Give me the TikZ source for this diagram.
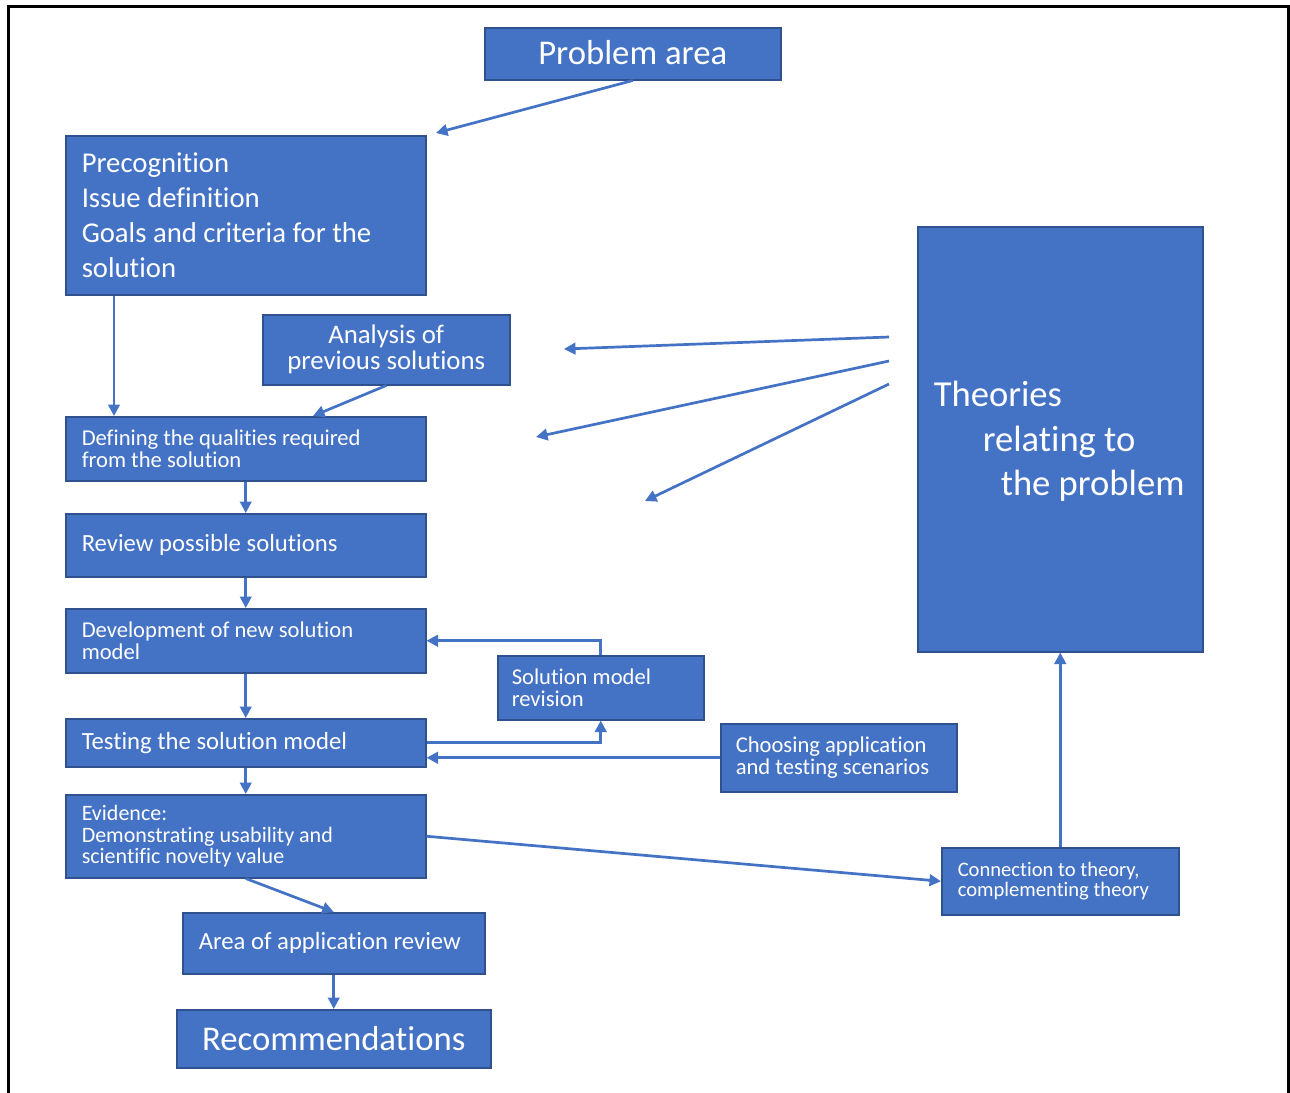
\documentclass[tikz,border=0pt]{standalone}
\usepackage{fontspec}
\setmainfont{Carlito}[Ligatures={TeX,NoCommon}]
\usetikzlibrary{arrows.meta,calc}
\definecolor{boxblue}{HTML}{4472C4}
\definecolor{boxborder}{HTML}{2F528F}
\definecolor{arrowblue}{HTML}{4472C4}
\tikzset{
  box/.style={draw=boxborder, line width=1.5pt, fill=boxblue, text=white, inner ysep=0pt, anchor=north west},
  lbox/.style={box, align=flush left, inner xsep=16pt},
  cbox/.style={box, align=center, inner xsep=0pt},
  arr/.style={draw=arrowblue, line width=2.7pt, -{Triangle[length=11.5pt,width=11.5pt]}},
  fsmall/.style={font=\fontsize{22.6}{22}\selectfont},
  fmid/.style={font=\fontsize{24.7}{26}\selectfont},
  flarge/.style={font=\fontsize{34.7}{36}\selectfont},
}
\begin{document}
\begin{tikzpicture}[x=1pt,y=-1pt]
\useasboundingbox (0,0) rectangle (1290,1092);
\fill[white] (0,0) rectangle (1290,1092);
% frame
\draw[line width=3pt, line cap=butt] (8,1100) -- (8,6.5) -- (1288.5,6.5) -- (1288.5,1100);

% nodes
\node[cbox, flarge, minimum width=296pt, minimum height=52pt] (prob) at (484,27) {\raisebox{3pt}{Problem area}};
\node[lbox, text width=328pt, minimum height=159pt, font=\fontsize{28.7}{35}\selectfont] (pre) at (65,135)
  {Precognition\\Issue definition\\Goals and criteria for the\\solution};
\node[cbox, minimum width=247pt, minimum height=70pt, font=\fontsize{26.8}{26}\selectfont] (ana) at (262,314)
  {Analysis of\\previous solutions};
\node[lbox, fsmall, text width=328pt, minimum height=64pt] (def) at (65,416)
  {Defining the qualities required\\from the solution};
\node[lbox, fmid, text width=328pt, minimum height=63pt] (rev) at (65,513) {\raisebox{-3pt}{Review possible solutions}};
\node[lbox, fsmall, text width=328pt, minimum height=64pt] (dev) at (65,608)
  {Development of new solution\\model};
\node[box, fsmall, align=flush left, inner xsep=14pt, text width=178pt, minimum height=64pt] (revis) at (497,655)
  {Solution model\\revision};
\node[lbox, fmid, text width=328pt, minimum height=48pt] (test) at (65,718) {\raisebox{-2pt}{Testing the solution model}};
\node[box, fsmall, align=flush left, inner xsep=15pt, text width=206pt, minimum height=68pt] (choose) at (720,723)
  {Choosing application\\and testing scenarios};
\node[lbox, font=\fontsize{22}{21.5}\selectfont, text width=328pt, minimum height=83pt] (evid) at (65,794)
  {Evidence:\\Demonstrating usability and\\scientific novelty value};
\node[lbox, font=\fontsize{20.6}{20}\selectfont, text width=205pt, minimum height=67pt] (conn) at (941,847)
  {Connection to theory,\\complementing theory};
\node[lbox, fmid, text width=270pt, minimum height=61pt] (area) at (182,912) {\raisebox{-3pt}{Area of application review}};
\node[cbox, flarge, minimum width=314pt, minimum height=58pt] (rec) at (176,1009) {\raisebox{1pt}{Recommendations}};
\node[lbox, font=\fontsize{36.6}{44.5}\selectfont, text width=253pt, minimum height=425pt] (theo) at (917,226)
  {\rule{0pt}{30pt}Theories\\\hspace*{49pt}\mbox{relating to}\\\hspace*{67pt}\mbox{the problem}};

% free-end coordinates
\coordinate (pe) at (436,133);
\coordinate (t1s) at (889,337);
\coordinate (t1e) at (564,349);
\coordinate (t2s) at (889,361);
\coordinate (t2e) at (536,437);
\coordinate (t3s) at (889,384);
\coordinate (t3e) at (645,501);

% connectors
\draw[arr] (prob.south) -- (pe);
\draw[arr] ($(pre.south west)+(49,0)$) -- ($(def.north west)+(49,0)$);
\draw[arr] (ana.south) -- ($(def.north west)+(248,0)$);
\draw[arr] (t1s) -- (t1e);
\draw[arr] (t2s) -- (t2e);
\draw[arr] (t3s) -- (t3e);
\draw[arr] (def.south) -- (rev.north);
\draw[arr] (rev.south) -- (dev.north);
\draw[arr] (dev.south) -- (test.north);
\draw[arr] (revis.north) |- (dev.east);
\draw[arr] (test.east) -| (revis.south);
\draw[arr] (choose.west) -- (choose.west -| test.east);
\draw[arr] (test.south) -- (evid.north);
\draw[arr] (evid.east) -- (conn.west);
\draw[arr] (conn.north) -- (theo.south);
\draw[arr] (evid.south) -- (area.north);
\draw[arr] (area.south) -- (rec.north);
\end{tikzpicture}
\end{document}
